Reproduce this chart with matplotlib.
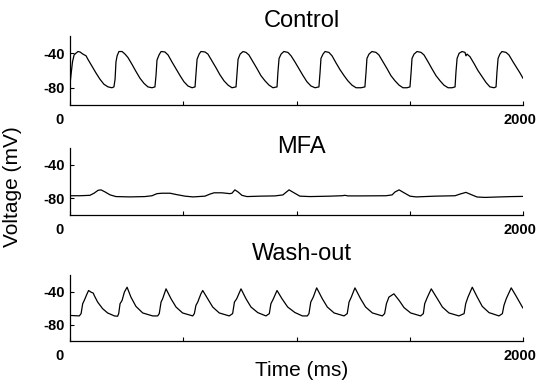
import matplotlib
matplotlib.use("Agg")
import matplotlib.pyplot as plt
import matplotlib.transforms as mtransforms

plt.rcParams["font.family"] = ["Liberation Sans", "DejaVu Sans"]

# traces: time (ms), membrane voltage (mV)
control_t = [0, 4, 11, 18, 26, 35, 44, 57, 71, 79, 97, 115, 132, 150, 168, 185, 194,
             199, 203, 208, 216, 230, 243, 256, 274, 291, 309, 327, 344, 362, 375,
             380, 384, 393, 402, 419, 433, 450, 468, 486, 503, 521, 539, 552,
             556, 561, 570, 578, 596, 609, 627, 645, 662, 680, 698, 715, 733,
             737, 742, 751, 764, 777, 790, 808, 826, 843, 861, 879, 896, 914,
             918, 923, 932, 944, 962, 976, 993, 1011, 1029, 1046, 1064, 1082, 1099,
             1104, 1108, 1117, 1126, 1143, 1157, 1174, 1192, 1210, 1227, 1245, 1263, 1285, 1302,
             1307, 1311, 1320, 1333, 1351, 1364, 1382, 1400, 1417, 1435, 1453, 1470, 1488, 1501,
             1506, 1510, 1519, 1532, 1550, 1563, 1581, 1598, 1616, 1634, 1651, 1669, 1687, 1700,
             1704, 1709, 1718, 1731, 1744, 1748, 1753, 1766, 1784, 1801, 1819, 1837, 1854, 1872, 1881,
             1885, 1890, 1898, 1907, 1925, 1938, 1956, 1973, 1987, 2000]
control_v = [-76, -66, -50, -42, -40, -38, -38.5, -41, -43, -47, -55, -63, -70, -76, -79, -80, -79,
             -70, -50, -43, -38, -38, -41, -45, -53, -61, -69, -75, -79, -80, -79,
             -65, -48, -42, -38, -38.5, -42, -50, -58, -66, -73, -78, -80, -79,
             -65, -47, -41, -38, -38.5, -41, -49, -57, -65, -72, -77, -80, -79,
             -65, -47, -41, -38, -39, -42, -50, -58, -66, -72, -77, -80, -79,
             -62, -46, -41, -38, -39, -43, -50, -58, -66, -73, -78, -80, -79,
             -62, -46, -41, -38, -39, -43, -51, -59, -66, -72, -77, -80, -80, -79,
             -62, -46, -41, -38, -39, -42, -50, -58, -66, -72, -77, -80, -80, -79,
             -62, -46, -41, -38, -39, -42, -50, -58, -66, -72, -77, -80, -80, -79,
             -62, -46, -40, -38, -39, -43, -41, -44, -52, -60, -67, -74, -79, -80, -79,
             -62, -46, -41, -38, -39, -42, -50, -57, -63, -69]

mfa_t = [0, 44, 88, 106, 124, 137, 155, 177, 203, 265, 331, 362, 384, 406, 442, 468,
         508, 543, 596, 618, 636, 671, 706, 715, 728, 742, 759, 781, 839, 905, 940,
         967, 989, 1015, 1060, 1148, 1201, 1214, 1227, 1280, 1395, 1422, 1435, 1453,
         1475, 1501, 1528, 1612, 1700, 1722, 1748, 1770, 1797, 1832, 1898, 1951, 2000]
mfa_v = [-77, -77, -76.5, -74, -70.5, -70, -72.5, -76, -78, -78.4, -78, -77, -74.5, -74, -74, -75.5,
         -77.5, -78.4, -77.5, -75, -73.5, -73.5, -74.5, -74, -70, -72.5, -76.5, -78, -77.5, -77.2, -76,
         -70, -73.5, -77.5, -78, -77.5, -77, -76.5, -77.2, -77.2, -77, -76, -72.5, -70,
         -73.5, -77.5, -78.4, -77.5, -77, -75, -73, -75.5, -78.5, -79, -78.4, -78, -77.8]

wash_t = [0, 41, 49, 56, 63, 74, 82, 93, 103, 107, 122, 144, 166, 196, 210,
          215, 221, 230, 240, 252, 269, 291, 321, 365, 387,
          394, 402, 409, 424, 446, 468, 497, 542,
          549, 556, 564, 578, 586, 608, 630, 659, 703,
          718, 726, 736, 755, 777, 799, 829, 865,
          880, 887, 898, 914, 936, 961, 993, 1026, 1048,
          1055, 1063, 1074, 1089, 1114, 1136, 1166, 1210,
          1224, 1232, 1242, 1258, 1283, 1305, 1335, 1379,
          1389, 1397, 1408, 1419, 1430, 1453, 1475, 1504, 1548,
          1560, 1566, 1578, 1595, 1622, 1644, 1673, 1717,
          1740, 1747, 1757, 1776, 1798, 1820, 1850, 1894,
          1909, 1916, 1926, 1948, 1968, 1997, 2000]
wash_v = [-69, -69.6, -66.8, -54.8, -50.8, -43.6, -38.8, -40.8, -42, -44.8, -52.8, -60.8, -66, -69.6, -70,
          -66.8, -54.8, -50.8, -40.8, -34.8, -46.8, -58, -66, -69.6, -69.6,
          -66.8, -52.8, -48.8, -36.8, -48.8, -58.8, -66, -69.6,
          -66.8, -56.8, -52.8, -42.8, -38.8, -48.8, -58.8, -66, -69.6,
          -66.8, -52.8, -48.8, -36.8, -48.8, -58.8, -65.6, -69.6,
          -66.8, -54.8, -48.8, -38.8, -48.8, -58.8, -65.5, -69.6, -69.6,
          -66.8, -52.8, -46.8, -35.6, -48.8, -58.8, -66, -69.6,
          -66.8, -52.8, -46.8, -35.6, -48.8, -58.8, -66, -69.6,
          -66.8, -54.8, -46.8, -44.8, -42.8, -50.8, -59.6, -66, -69.6,
          -66.8, -54.8, -46.8, -36.8, -48.8, -58.8, -66, -69.6,
          -66.8, -54.8, -46.8, -34.8, -46.8, -58, -65.6, -69.6,
          -66.8, -56.8, -48.8, -35.6, -44.8, -58.8, -60]

panel_titles = ["Control", "MFA", "Wash-out"]
xticks = [0, 500, 1000, 1500, 2000]
xticklabels = ["0", "", "", "", "2000"]
yticks = [-40, -80]
yticklabels = ["-40", "-80"]

W, H = 538, 383
# axes boxes in pixels: left, top, right, bottom
boxes = [(70, 36, 523, 105), (70, 148, 523, 215), (70, 275, 523, 341)]
title_baselines = [27, 153, 260]


def run():
    fig = plt.figure(figsize=(W / 100, H / 100), dpi=100)
    traces = [(control_t, control_v), (mfa_t, mfa_v), (wash_t, wash_v)]

    for (t, v), box, title, tb in zip(traces, boxes, panel_titles, title_baselines):
        l, tp, r, b = box
        ax = fig.add_axes([l / W, 1 - b / H, (r - l) / W, (b - tp) / H])
        ax.plot(t, v, color="black", lw=0.9)
        ax.set_xlim(0, 2000)
        ax.set_ylim(-100, -20)
        for s in ["top", "right"]:
            ax.spines[s].set_visible(False)
        for s in ["left", "bottom"]:
            ax.spines[s].set_linewidth(0.9)
        ax.set_xticks(xticks)
        ax.set_xticklabels(xticklabels, fontsize=10.5, fontweight="bold")
        ax.set_yticks(yticks)
        ax.set_yticklabels(yticklabels, fontsize=10.5, fontweight="bold")
        ax.tick_params(direction="in", length=3, width=0.8, pad=4)
        ax.tick_params(axis="x", pad=6)
        # first x label sits a bit left of its tick
        shift = mtransforms.ScaledTranslation(-10 / 100, 0, fig.dpi_scale_trans)
        lab = ax.get_xticklabels()[0]
        lab.set_transform(lab.get_transform() + shift)
        shift2 = mtransforms.ScaledTranslation(-3 / 100, 0, fig.dpi_scale_trans)
        lab = ax.get_xticklabels()[-1]
        lab.set_transform(lab.get_transform() + shift2)

        fig.text(301.5 / W, 1 - tb / H, title, fontsize=17, ha="center", va="baseline")

    fig.text(301.5 / W, 1 - 376 / H, "Time (ms)", fontsize=15, ha="center", va="baseline")
    fig.text(13 / W, 1 - 187 / H, "Voltage (mV)", fontsize=15, rotation=90,
             ha="center", va="center")

    fig.savefig("out.png", dpi=100)
    plt.close()


if __name__ == "__main__":
    run()
